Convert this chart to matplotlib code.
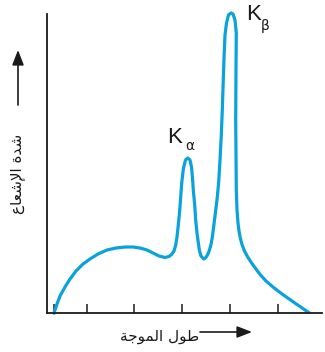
import matplotlib
matplotlib.use("Agg")
import matplotlib.pyplot as plt

# curve: wavelength (x) and intensity (y), arbitrary units
wavelength = [7, 10, 13, 18, 23, 29, 36, 43, 51, 60,
              69, 78, 86, 93, 100, 106, 112, 118, 122, 124.7,
              127, 128.7, 130, 131.3, 132.3, 133.5, 134.7, 136.5, 138.5, 140.7,
              143, 144.5, 145.5, 146.3, 147.7, 148.7, 150, 152.3, 154,
              156.7, 158.5, 160.5, 162.3, 164, 165.5, 167.5, 170, 171.7, 173,
              174.3, 175.3, 176.2, 177, 178, 179.5, 181.5, 184, 186, 188,
              189.3, 189, 188.7, 189, 189.3, 190, 191, 192, 193.3, 195,
              197.5, 201, 206, 212.7, 219, 226, 231, 240, 250, 261]
intensity = [0, 9, 17, 26, 34, 42, 49, 54, 59, 63,
             65, 66, 66, 65, 63, 60, 57, 55.5, 56.5, 58.7,
             62, 68, 76, 88, 98, 113, 130, 145, 153, 155,
             153, 146, 135, 123, 108, 93, 80, 63, 57,
             54, 55, 58, 62.5, 68.5, 77, 93, 113, 131, 153,
             178, 203, 231, 255, 278, 290, 298, 300, 299, 293,
             280, 246, 193, 160, 123, 103, 90, 82, 75, 68.5,
             62, 55.5, 48, 39, 32, 26, 22, 15.5, 8.5, 1]
tick_pos = [7, 40, 87, 135, 183, 231]
x_label = "طول الموجة"
y_label = "شدة الإشعاع"
peak_labels = ["α", "β"]

BLUE = "#0aa2dc"
INK = "#1a1a1a"

# minimal Arabic shaping (presentation forms) since matplotlib has no text shaping
FORMS = {
    "ا": (0xFE8D, 0xFE8E), "إ": (0xFE87, 0xFE88), "د": (0xFEA9, 0xFEAA),
    "ة": (0xFE93, 0xFE94), "و": (0xFEED, 0xFEEE),
    "ش": (0xFEB5, 0xFEB6, 0xFEB7, 0xFEB8), "ع": (0xFEC9, 0xFECA, 0xFECB, 0xFECC),
    "ط": (0xFEC1, 0xFEC2, 0xFEC3, 0xFEC4), "ل": (0xFEDD, 0xFEDE, 0xFEDF, 0xFEE0),
    "م": (0xFEE1, 0xFEE2, 0xFEE3, 0xFEE4), "ج": (0xFE9D, 0xFE9E, 0xFE9F, 0xFEA0),
    "LA": (0xFEFB, 0xFEFC), "LI": (0xFEF9, 0xFEFA),
}


def shape(text):
    chars = []
    i = 0
    while i < len(text):
        c = text[i]
        if c == "ل" and i + 1 < len(text) and text[i + 1] in "اإ":
            chars.append("LA" if text[i + 1] == "ا" else "LI")
            i += 2
            continue
        chars.append(c)
        i += 1
    out = []
    for k, c in enumerate(chars):
        if c not in FORMS:
            out.append(c)
            continue
        prev = chars[k - 1] if k > 0 else None
        nxt = chars[k + 1] if k + 1 < len(chars) else None
        jp = prev in FORMS and len(FORMS[prev]) == 4
        jn = len(FORMS[c]) == 4 and nxt in FORMS
        f = FORMS[c]
        if jp and jn:
            out.append(chr(f[3]))
        elif jn:
            out.append(chr(f[2]))
        elif jp:
            out.append(chr(f[1]))
        else:
            out.append(chr(f[0]))
    return "".join(reversed(out))


fig = plt.figure(figsize=(3.25, 3.52), dpi=100)
W, H = 325, 352
ax = fig.add_axes([47 / W, 39 / H, 275 / W, 299 / H])
ax.plot(wavelength, intensity, color=BLUE, lw=2.3, clip_on=False,
        solid_joinstyle="round")
ax.set_xlim(0, 275)
ax.set_ylim(0, 299)
for s in ["top", "right"]:
    ax.spines[s].set_visible(False)
for s in ["left", "bottom"]:
    ax.spines[s].set_linewidth(1.3)
    ax.spines[s].set_color(INK)
ax.set_xticks(tick_pos)
ax.tick_params(axis="x", direction="in", length=6.5, width=1.1,
               labelbottom=False, color=INK)
ax.set_yticks([])


def px(x, y):
    return x / W, 1 - y / H


# peak labels
fig.text(*px(167, 143), "K", fontsize=16, family="Liberation Sans",
         color=INK, ha="left", va="baseline")
fig.text(*px(185, 150), peak_labels[0], fontsize=10, family="DejaVu Sans",
         color=INK, ha="left", va="baseline")
fig.text(*px(246, 20), "K", fontsize=16, family="Liberation Sans",
         color=INK, ha="left", va="baseline")
fig.text(*px(261, 30), peak_labels[1], fontsize=10, family="DejaVu Sans",
         color=INK, ha="left", va="baseline")

# axis titles with arrows
fig.text(*px(160, 337), shape(x_label), fontsize=11, family="DejaVu Sans",
         ha="center", va="center", color=INK)
fig.text(*px(18, 174), shape(y_label), fontsize=11, family="DejaVu Sans",
         ha="center", va="center", rotation=90, color=INK)
arrow = dict(arrowstyle="-|>,head_length=0.9,head_width=0.35", color=INK,
             lw=1.2, shrinkA=0, shrinkB=0)
ax.annotate("", xy=px(252, 332), xytext=px(200, 332),
            xycoords="figure fraction", textcoords="figure fraction",
            arrowprops=arrow)
ax.annotate("", xy=px(18, 50), xytext=px(18, 105),
            xycoords="figure fraction", textcoords="figure fraction",
            arrowprops=arrow)

fig.savefig("out.png", dpi=100)
